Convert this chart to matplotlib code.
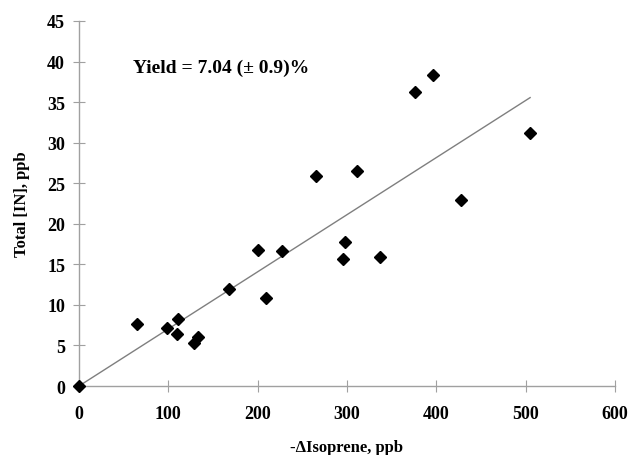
import matplotlib.pyplot as plt
import numpy as np

plt.rcParams['font.family'] = ['Liberation Serif', 'DejaVu Serif']
plt.rcParams['font.weight'] = 'bold'
plt.rcParams['axes.spines.right'] = False
plt.rcParams['axes.spines.top'] = False

# -dIsoprene (ppb) vs total [IN] (ppb)
isoprene = [0, 65, 98, 111, 110, 129, 133, 168, 200, 227, 209,
            298, 296, 337, 265, 311, 376, 396, 505, 428]
total_in = [0, 7.7, 7.1, 8.3, 6.4, 5.3, 6.0, 11.9, 16.8, 16.6, 10.9,
            17.7, 15.7, 15.9, 25.9, 26.5, 36.2, 38.4, 31.2, 22.9]
yield_pct = 7.04

fig = plt.figure(figsize=(6.29, 4.56), dpi=100)
ax = fig.add_axes([0.1256, 0.1513, 0.8521, 0.8005])

fit_x = np.array([0, max(isoprene)])
ax.plot(fit_x, fit_x * yield_pct / 100, color='#7f7f7f', lw=1)
ax.plot(isoprene, total_in, 'D', color='black', ms=6, clip_on=False, zorder=3)

ax.set_xlim(0, 600)
ax.set_ylim(0, 45)
ax.set_xticks(range(0, 601, 100))
ax.set_yticks(range(0, 46, 5))
for s in ['left', 'bottom']:
    ax.spines[s].set_color('#a0a0a0')
    ax.spines[s].set_linewidth(1)
ax.tick_params(direction='inout', length=8, color='#a0a0a0', labelsize=13)
ax.tick_params(axis='x', pad=10)
ax.tick_params(axis='y', pad=6)
for lab in ax.get_xticklabels() + ax.get_yticklabels():
    lab.set_fontweight('bold')

ax.text(60, 39.3, 'Yield = 7.04 (\u00b1 0.9)%', fontsize=14, fontweight='bold', va='center')

ax.set_xlabel('-\u0394Isoprene, ppb', fontsize=12, fontweight='bold', labelpad=12)
ax.set_ylabel('Total [IN], ppb', fontsize=12, fontweight='bold', labelpad=12)

fig.savefig('out.png', dpi=100)
